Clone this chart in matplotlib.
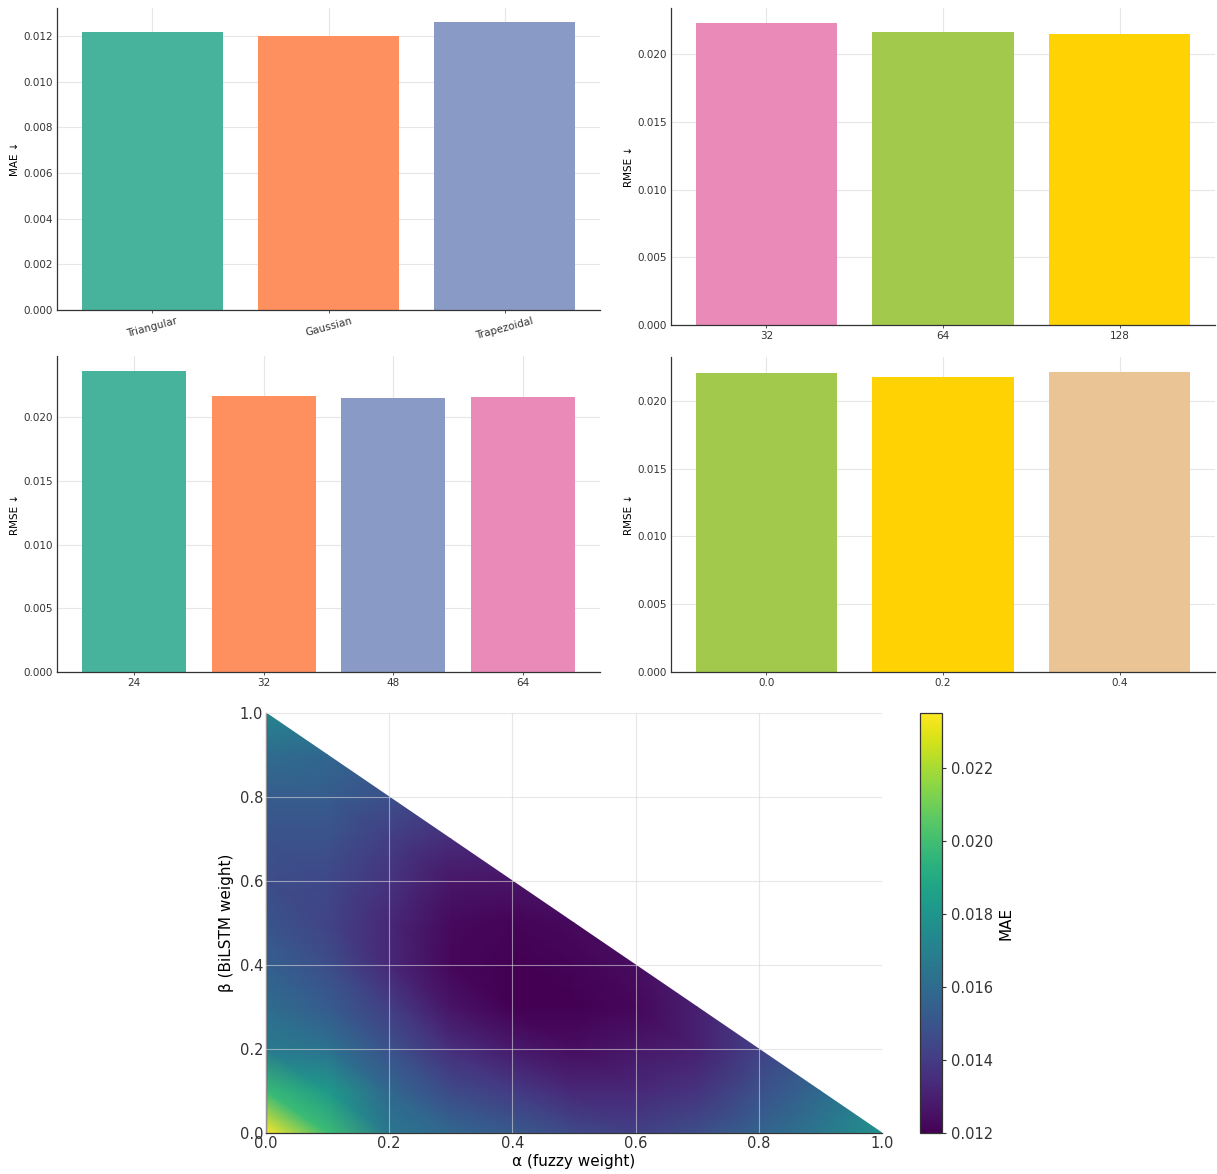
import numpy as np
import matplotlib

matplotlib.use("Agg")
import matplotlib.pyplot as plt
import matplotlib.tri as mtri

# ---- ablation results ----
MF_TYPES = ["Triangular", "Gaussian", "Trapezoidal"]
MF_MAE = [0.0122, 0.0120, 0.0126]

HIDDEN_UNITS = ["32", "64", "128"]
HIDDEN_RMSE = [0.02229, 0.02162, 0.02148]

WINDOW_LEN = ["24", "32", "48", "64"]
WINDOW_RMSE = [0.02363, 0.02166, 0.02150, 0.02160]

DROPOUT = ["0.0", "0.2", "0.4"]
DROPOUT_RMSE = [0.02207, 0.02177, 0.02214]

# ---- fusion weight sweep (gamma = 1 - alpha - beta) ----
ALPHA = [0.0, 0.1, 0.2, 0.3, 0.4, 0.5, 0.6, 0.7, 0.8, 0.9, 1.0]
BETA = [0.0, 0.1, 0.2, 0.3, 0.4, 0.5, 0.6, 0.7, 0.8, 0.9, 1.0]
# one row per beta value, columns follow ALPHA while alpha + beta <= 1
SWEEP_MAE = [
    [0.0235, 0.0199, 0.0165, 0.0158, 0.0152, 0.0146, 0.0142, 0.0147, 0.0156, 0.0166, 0.0178],
    [0.0198, 0.0182, 0.0158, 0.0146, 0.0140, 0.0133, 0.0133, 0.0137, 0.0148, 0.0159],
    [0.0167, 0.0163, 0.0149, 0.0135, 0.0128, 0.0124, 0.0127, 0.0130, 0.0142],
    [0.0160, 0.0153, 0.0141, 0.0126, 0.0120, 0.0120, 0.0122, 0.0130],
    [0.0155, 0.0147, 0.0133, 0.0122, 0.0120, 0.0121, 0.0124],
    [0.0150, 0.0143, 0.0133, 0.0123, 0.0121, 0.0123],
    [0.0147, 0.0145, 0.0137, 0.0127, 0.0126],
    [0.0149, 0.0149, 0.0141, 0.0134],
    [0.0153, 0.0153, 0.0148],
    [0.0160, 0.0158],
    [0.0173],
]

PALETTE = ["#47b39d", "#fe8f5f", "#8a9ac6", "#e98ab8", "#a3c94c", "#ffd203", "#eac494"]

plt.rcParams.update({
    "font.family": ["DejaVu Sans"],
    "axes.edgecolor": "#333333",
    "axes.linewidth": 0.9,
    "xtick.color": "#333333",
    "ytick.color": "#333333",
})

W, H = 1217, 1174
fig = plt.figure(figsize=(W / 100, H / 100), dpi=100)


def px_axes(left, top, right, bottom):
    return fig.add_axes([left / W, 1 - bottom / H, (right - left) / W, (bottom - top) / H])


def bar_panel(ax, labels, values, colors, ylabel, rot=0):
    x = np.arange(len(labels))
    ax.bar(x, values, width=0.8, color=colors, zorder=2)
    ax.set_xticks(x)
    ax.set_xticklabels(labels, rotation=rot, fontsize=7.5)
    ax.tick_params(axis="y", labelsize=7.5, length=0, pad=3)
    ax.tick_params(axis="x", length=2.5, width=0.6, pad=2)
    ax.set_ylabel(ylabel, fontsize=7.5, labelpad=2)
    ax.grid(True, color="#e6e6e6", linewidth=0.8)
    ax.set_axisbelow(True)
    ax.set_ylim(0, max(values) * 1.05)
    ax.yaxis.set_major_formatter(lambda v, _: f"{v:.3f}")
    for s in ("top", "right"):
        ax.spines[s].set_visible(False)


ax1 = px_axes(57, 8, 600, 310)
bar_panel(ax1, MF_TYPES, MF_MAE, PALETTE[0:3], "MAE ↓", rot=15)

ax2 = px_axes(671, 8, 1215, 325)
bar_panel(ax2, HIDDEN_UNITS, HIDDEN_RMSE, PALETTE[3:6], "RMSE ↓")

ax3 = px_axes(57, 356, 600, 672)
bar_panel(ax3, WINDOW_LEN, WINDOW_RMSE, PALETTE[0:4], "RMSE ↓")

ax4 = px_axes(671, 357, 1215, 672)
bar_panel(ax4, DROPOUT, DROPOUT_RMSE, PALETTE[4:7], "RMSE ↓")

# ---- triangular heatmap over the feasible simplex ----
n = len(ALPHA)
pts_a, pts_b, vals, index = [], [], [], {}
for j, row in enumerate(SWEEP_MAE):
    for i, v in enumerate(row):
        index[(i, j)] = len(vals)
        pts_a.append(ALPHA[i])
        pts_b.append(BETA[j])
        vals.append(v)

tris = []
for j in range(n - 1):
    for i in range(n - 1 - j):
        tris.append([index[(i, j)], index[(i + 1, j)], index[(i, j + 1)]])
        if (i + 1, j + 1) in index:
            tris.append([index[(i + 1, j)], index[(i + 1, j + 1)], index[(i, j + 1)]])

tri = mtri.Triangulation(pts_a, pts_b, tris)
ax5 = px_axes(266, 713, 882, 1133)
pc = ax5.tripcolor(tri, vals, shading="gouraud", cmap="viridis", zorder=1)
ax5.set_xlim(0, 1)
ax5.set_ylim(0, 1)
ax5.set_xticks(np.arange(0, 1.01, 0.2))
ax5.set_yticks(np.arange(0, 1.01, 0.2))
ax5.xaxis.set_major_formatter(lambda v, _: f"{v:.1f}")
ax5.yaxis.set_major_formatter(lambda v, _: f"{v:.1f}")
ax5.tick_params(labelsize=10.5, length=0, pad=2)
ax5.grid(True, color="#d8d8d8", linewidth=0.8, alpha=0.6, zorder=3)
ax5.set_axisbelow(False)
ax5.set_xlabel("α (fuzzy weight)", fontsize=11, labelpad=2)
ax5.set_ylabel("β (BiLSTM weight)", fontsize=11, labelpad=4)
for s in ("top", "right"):
    ax5.spines[s].set_visible(False)

cax = px_axes(920, 713, 942, 1133)
cb = fig.colorbar(pc, cax=cax)
cb.set_ticks([0.012, 0.014, 0.016, 0.018, 0.020, 0.022])
cb.ax.yaxis.set_major_formatter(lambda v, _: f"{v:.3f}")
cb.ax.tick_params(labelsize=10.5, length=3)
cb.set_label("MAE", fontsize=11, labelpad=4)

fig.savefig("out.png", dpi=100)
